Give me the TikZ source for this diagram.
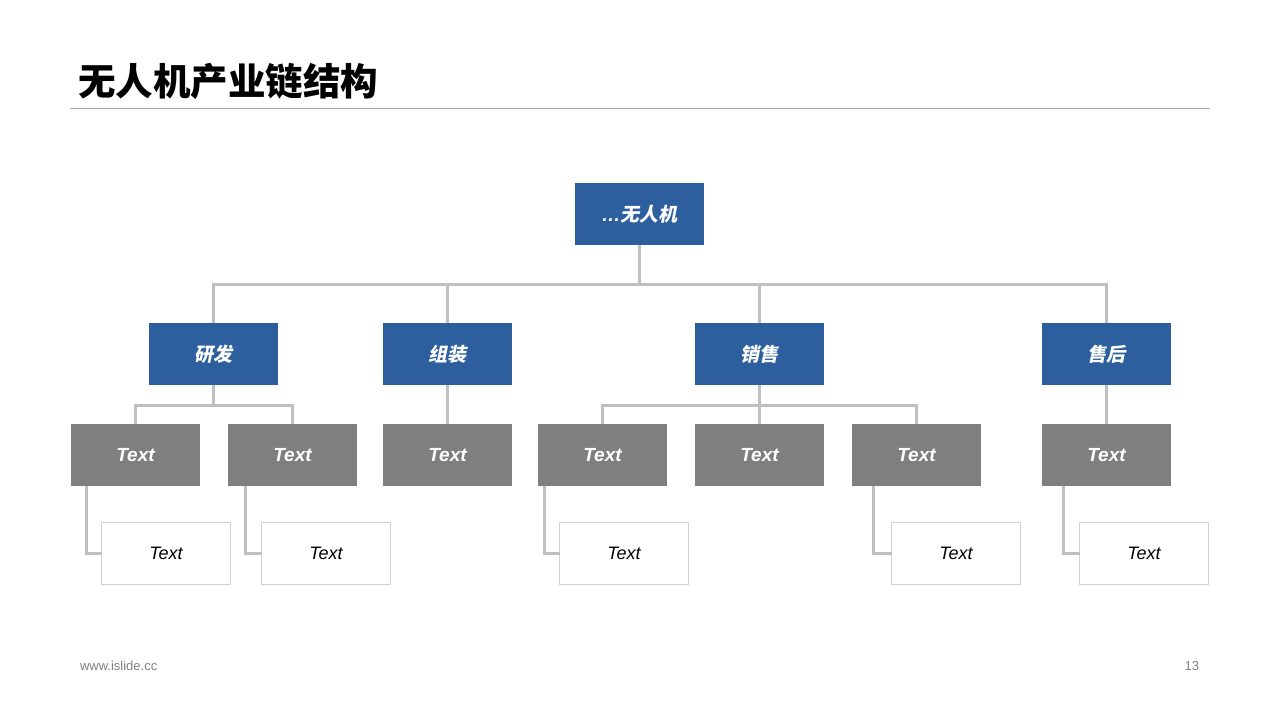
\documentclass[tikz,border=0pt]{standalone}
\usepackage{fontspec}
\setmainfont{Liberation Sans}
\newfontfamily\cjk{Noto Sans CJK SC}
\newfontfamily\cjkslant{Noto Sans CJK SC}[FakeSlant=0.2]
\definecolor{boxblue}{HTML}{2D5F9E}
\definecolor{boxgray}{HTML}{7F7F7F}
\definecolor{linegray}{HTML}{BFBFBF}
\definecolor{framegray}{HTML}{D0D0D0}
\definecolor{footgray}{HTML}{808080}

\begin{document}
\begin{tikzpicture}[x=1pt, y=-1pt,
  every node/.style={inner sep=0pt, outer sep=0pt, minimum width=129pt, minimum height=62pt},
  bluebox/.style={fill=boxblue, text=white, font=\fontsize{19}{22}\selectfont\cjkslant\bfseries},
  graybox/.style={fill=boxgray, text=white, font=\fontsize{19}{22}\selectfont\bfseries\itshape},
  whitebox/.style={draw=framegray, line width=1pt, fill=white, font=\fontsize{18}{22}\selectfont\itshape},
  conn/.style={draw=linegray, line width=3pt}]
  \useasboundingbox (0,0) rectangle (1280,720);
  % title and rule
  \node[minimum width=0pt, minimum height=0pt, anchor=west, font=\fontsize{37.5}{42}\selectfont\cjk\bfseries] (title) at (78,81) {无人机产业链结构};
  \draw[footgray!70, line width=1pt] (70,108) -- (1210,108);
  % top
  \node[bluebox] (top) at (639.5,214) {{\rmfamily\itshape …}无人机};
  % second level
  \node[bluebox] (rd) at (213.5,354) {研发};
  \node[bluebox] (zz) at (447.5,354) {组装};
  \node[bluebox] (xs) at (759.5,354) {销售};
  \node[bluebox] (sh) at (1106.5,354) {售后};
  % third level
  \node[graybox] (t1) at (135.5,455) {Text};
  \node[graybox] (t2) at (292.5,455) {Text};
  \node[graybox] (t3) at (447.5,455) {Text};
  \node[graybox] (t4) at (602.5,455) {Text};
  \node[graybox] (t5) at (759.5,455) {Text};
  \node[graybox] (t6) at (916.5,455) {Text};
  \node[graybox] (t7) at (1106.5,455) {Text};
  % leaves
  \node[whitebox] (w1) at (166,553) {Text};
  \node[whitebox] (w2) at (326,553) {Text};
  \node[whitebox] (w3) at (624,553) {Text};
  \node[whitebox] (w4) at (956,553) {Text};
  \node[whitebox] (w5) at (1144,553) {Text};
  % connectors
  \coordinate (bus) at (639.5,284);
  \draw[conn] (top.south) -- (bus);
  \draw[conn] (rd.north) |- (bus) -| (sh.north);
  \draw[conn] (zz.north) -- (zz.north |- bus);
  \draw[conn] (xs.north) -- (xs.north |- bus);
  \draw[conn] (rd.south) -- ++(0,20) coordinate (rdbus);
  \draw[conn] (t1.north) |- (rdbus) -| (t2.north);
  \draw[conn] (zz.south) -- (t3.north);
  \draw[conn] (xs.south) -- ++(0,20) coordinate (xsbus);
  \draw[conn] (t4.north) |- (xsbus) -| (t6.north);
  \draw[conn] (xsbus) -- (t5.north);
  \draw[conn] (sh.south) -- (t7.north);
  \draw[conn] ([xshift=15pt]t1.south west) |- (w1.west);
  \draw[conn] ([xshift=17pt]t2.south west) |- (w2.west);
  \draw[conn] ([xshift=6pt]t4.south west) |- (w3.west);
  \draw[conn] ([xshift=21pt]t6.south west) |- (w4.west);
  \draw[conn] ([xshift=21pt]t7.south west) |- (w5.west);
  % footer
  \node[minimum width=0pt, minimum height=0pt, anchor=west, text=footgray, font=\fontsize{13}{15}\selectfont] (site) at (80,666) {www.islide.cc};
  \node[minimum width=0pt, minimum height=0pt, anchor=east, text=footgray, font=\fontsize{13}{15}\selectfont] (page) at (1199,666) {13};
\end{tikzpicture}
\end{document}
